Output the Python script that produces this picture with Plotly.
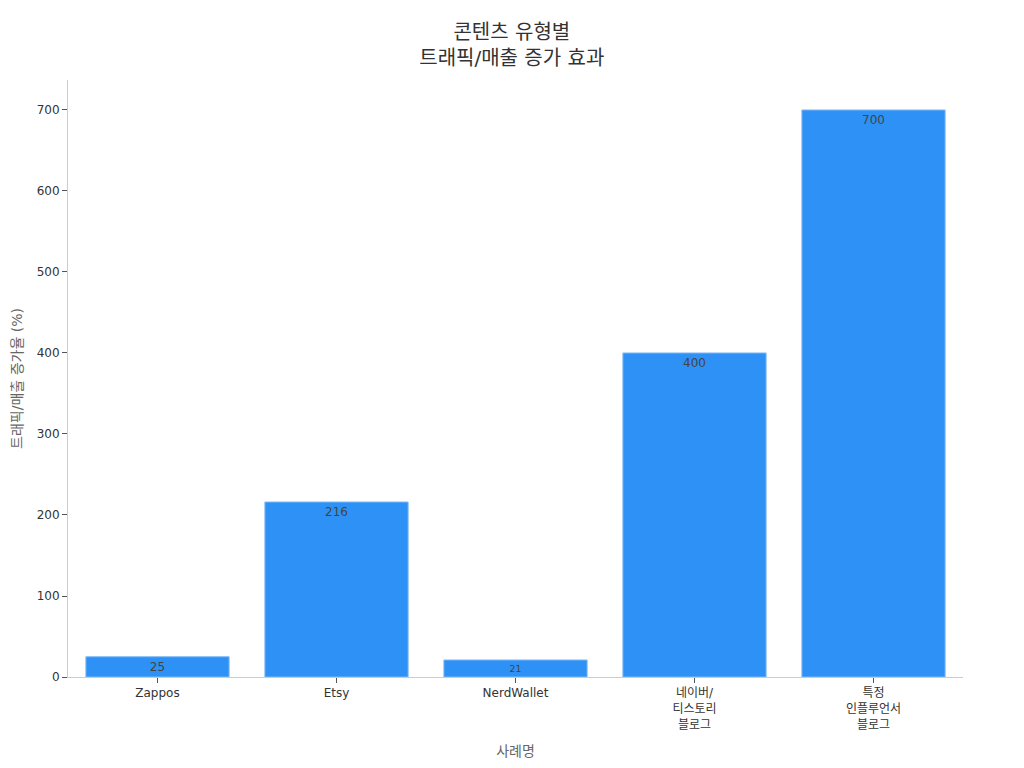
import plotly.graph_objects as go

categories = ["Zappos", "Etsy", "NerdWallet", "네이버/<br>티스토리<br>블로그", "특정<br>인플루언서<br>블로그"]
values = [25, 216, 21, 400, 700]
y_ticks = [0, 100, 200, 300, 400, 500, 600, 700]

fig = go.Figure(go.Bar(
    x=categories, y=values,
    text=[str(v) for v in values],
    textposition="inside", insidetextanchor="end",
    textfont=dict(color="#444444", size=12),
    marker=dict(color="#2E91F6", line=dict(color="#7FB8F5", width=1)),
))

fig.update_layout(
    width=1024, height=768,
    font=dict(family="DejaVu Sans, Noto Sans CJK KR", size=12, color="#333333"),
    title=dict(text="콘텐츠 유형별<br>트래픽/매출 증가 효과", x=0.492, xref="container", xanchor="center",
               y=0.96, yanchor="middle", font=dict(size=20, color="#333333")),
    plot_bgcolor="white", paper_bgcolor="white",
    margin=dict(l=60, r=69, t=72, b=99),
    bargap=0.2,
    showlegend=False,
)
fig.update_xaxes(
    title=dict(text="사례명", font=dict(size=14, color="#666666"), standoff=15),
    showline=True, linecolor="#cccccc", linewidth=1,
    ticks="outside", ticklen=5, tickcolor="#555555",
    showgrid=False,
)
fig.update_yaxes(
    title=dict(text="트래픽/매출 증가율 (%)", font=dict(size=14, color="#666666"), standoff=10),
    automargin=False,
    range=[0, 737], tickvals=y_ticks,
    showline=True, linecolor="#cccccc", linewidth=1,
    ticks="outside", ticklen=5, tickcolor="#555555",
    showgrid=False, zeroline=False,
)

fig.write_html("out.html")
